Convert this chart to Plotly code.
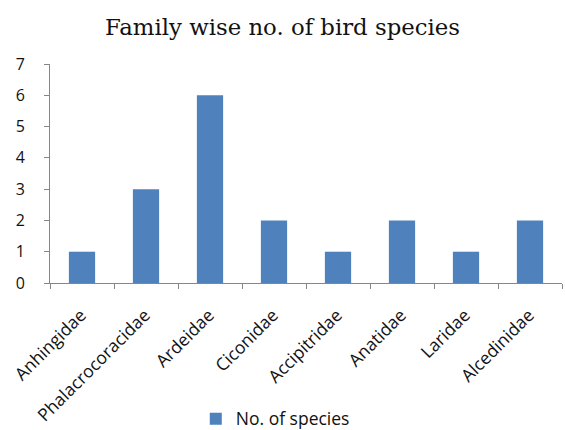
import plotly.graph_objects as go

families = ["Anhingidae", "Phalacrocoracidae", "Ardeidae", "Ciconidae",
            "Accipitridae", "Anatidae", "Laridae", "Alcedinidae"]
species_counts = [1, 3, 6, 2, 1, 2, 1, 2]
y_ticks = [0, 1, 2, 3, 4, 5, 6, 7]

fig = go.Figure()
fig.add_trace(go.Bar(
    x=families, y=species_counts, name="No. of species",
    marker=dict(color="#4F81BD", line=dict(width=0)),
    width=0.41, showlegend=True,
))

axis_color = "#868686"
fig.update_layout(
    width=565, height=430,
    margin=dict(l=50, r=3, t=64, b=147, autoexpand=False),
    paper_bgcolor="white", plot_bgcolor="white",
    title=dict(text="Family wise no. of bird species",
               font=dict(family="DejaVu Serif", size=22.8, color="#111"),
               x=0.5, xanchor="center", y=1 - 27/430, yanchor="middle"),
    font=dict(family="Open Sans", size=17, color="#111"),
    xaxis=dict(tickangle=-45, showline=True, linecolor=axis_color, linewidth=1,
               ticks="outside", tickson="boundaries", ticklen=5, tickcolor=axis_color,
               showgrid=False, tickfont=dict(size=17.5), ticklabelstandoff=14,
               ticklabelshift=-1, automargin=False),
    yaxis=dict(range=[0, 7], tickvals=y_ticks, showline=True, linecolor=axis_color,
               linewidth=1, ticks="outside", ticklen=5, tickcolor=axis_color,
               showgrid=False, zeroline=False, tickfont=dict(size=16),
               ticklabelstandoff=16, automargin=False),
    legend=dict(orientation="h", x=0.44, xanchor="center", y=-0.62, yanchor="middle",
                font=dict(size=17.5), itemwidth=30),
    bargap=0.59,
)

fig.write_html("out.html")
